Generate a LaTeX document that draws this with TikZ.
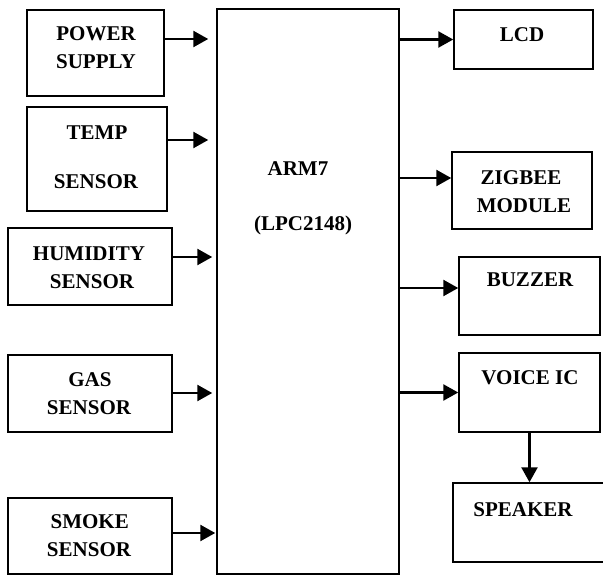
\documentclass[tikz,border=0pt]{standalone}
\usepackage{fontspec}
\setmainfont{Liberation Serif}
\usetikzlibrary{arrows.meta}
\begin{document}
\begin{tikzpicture}[x=1pt,y=-1pt,
  box/.style={draw, line width=1.5pt, inner sep=0pt, rectangle},
  txt/.style={font=\fontsize{21}{25}\selectfont\bfseries, anchor=base, inner sep=0pt},
  arr/.style={line width=2.5pt, -{Triangle[length=15pt,width=16pt]}}]
\useasboundingbox (0,0) rectangle (603,575);
% boxes
\node[box, minimum width=137pt, minimum height=86pt] (pow) at (95.5,53) {};
\node[box, minimum width=140pt, minimum height=104pt] (temp) at (97,159) {};
\node[box, minimum width=164pt, minimum height=77pt] (hum) at (90,266.5) {};
\node[box, minimum width=164pt, minimum height=77pt] (gas) at (90,393.5) {};
\node[box, minimum width=164pt, minimum height=76pt] (smoke) at (90,536) {};
\node[box, minimum width=182pt, minimum height=565pt] (arm) at (308,291.5) {};
\node[box, minimum width=139pt, minimum height=59pt] (lcd) at (523.5,39.5) {};
\node[box, minimum width=140pt, minimum height=77pt] (zig) at (522,190.5) {};
\node[box, minimum width=141pt, minimum height=78pt] (buz) at (529.5,296) {};
\node[box, minimum width=141pt, minimum height=79pt] (voice) at (529.5,392.5) {};
\node[box, minimum width=159pt, minimum height=79pt] (spk) at (532.5,522.5) {};
% texts
\node[txt] (powa) at (96,41) {POWER};
\node[txt] (powb) at (96,69) {SUPPLY};
\node[txt] (tempa) at (97,140) {TEMP};
\node[txt] (tempb) at (96,189) {SENSOR};
\node[txt] (huma) at (89,261) {HUMIDITY};
\node[txt] (humb) at (92,288.5) {SENSOR};
\node[txt] (gasa) at (90,386) {GAS};
\node[txt] (gasb) at (89,414) {SENSOR};
\node[txt] (smokea) at (89.7,528) {SMOKE};
\node[txt] (smokeb) at (89,556) {SENSOR};
\node[txt] (arma) at (298,176) {ARM7};
\node[txt] (armb) at (303,231) {(LPC2148)};
\node[txt] (lcdt) at (522,42) {LCD};
\node[txt] (ziga) at (521,184.5) {ZIGBEE};
\node[txt] (zigb) at (524,212) {MODULE};
\node[txt] (buzt) at (530,287) {BUZZER};
\node[txt] (voicet) at (530,384) {VOICE IC};
\node[txt] (spkt) at (523,516) {SPEAKER};
% arrows in
\draw[arr, shorten >=8pt] (pow.east |- 0,39) -- (arm.west |- 0,39);
\draw[arr, shorten >=8pt] (temp.east |- 0,140) -- (arm.west |- 0,140);
\draw[arr, shorten >=4pt] (hum.east |- 0,257) -- (arm.west |- 0,257);
\draw[arr, shorten >=4pt] (gas.east |- 0,393) -- (arm.west |- 0,393);
\draw[arr, shorten >=1pt] (smoke.east |- 0,533) -- (arm.west |- 0,533);
% arrows out
\draw[arr] (arm.east |- lcd.west) -- (lcd.west);
\draw[arr] (arm.east |- 0,178) -- (zig.west |- 0,178);
\draw[arr] (arm.east |- 0,288) -- (buz.west |- 0,288);
\draw[arr] (arm.east |- voice.west) -- (voice.west);
\draw[arr] (voice.south) -- (voice.south |- spk.north);
\end{tikzpicture}
\end{document}
